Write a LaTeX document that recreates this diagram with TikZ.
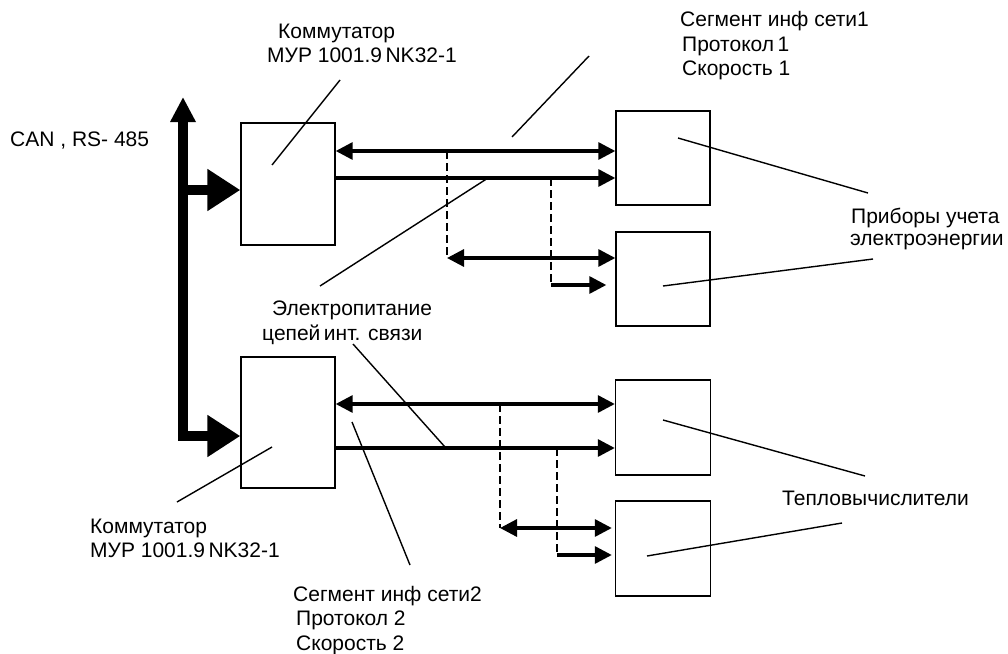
\documentclass[tikz,border=0pt]{standalone}
\usepackage{fontspec}
\setmainfont{Liberation Sans}
\usetikzlibrary{arrows.meta}

\begin{document}
\begin{tikzpicture}[x=1pt, y=-1pt,
    box/.style={draw, line width=1.4pt, inner sep=0pt},
    lbl/.style={anchor=base west, inner sep=0pt, font=\fontsize{21}{24}\selectfont},
    bus/.style={line width=10pt, line join=miter},
    link/.style={line width=3.2pt, >={Triangle[length=17pt, width=17pt]}},
    tap/.style={line width=2.6pt, dash pattern=on 8pt off 4pt},
    lead/.style={line width=1.4pt}]
  \useasboundingbox (0,0) rectangle (1008,653);

  % блоки
  \node[box, minimum width=94pt, minimum height=122pt] (s1) at (288,184) {};
  \node[box, minimum width=94pt, minimum height=131pt] (s2) at (288,422.5) {};
  \node[box, minimum size=94pt] (a) at (663,158) {};
  \node[box, minimum size=94pt] (b) at (663,279) {};
  \node[box, minimum size=95pt] (c) at (663,427.5) {};
  \node[box, minimum size=95pt] (d) at (663,548.5) {};

  % магистраль CAN, RS-485
  \coordinate (top) at (183,97);
  \coordinate (bend) at (183,436);
  \coordinate (tap0) at (183,190);
  \draw[bus, {Triangle[length=25pt, width=24pt]}-{Triangle[length=33pt, width=40pt]}]
    (top) -- (bend) -- (bend -| s2.west);
  \draw[bus, -{Triangle[length=33pt, width=40pt]}] (tap0) -- (tap0 -| s1.west);

  % сегмент 1
  \coordinate (p1) at (447,151);
  \coordinate (p2) at (551,178);
  \draw[link, <->] (p1 -| s1.east) -- (p1 -| a.west);
  \draw[link, ->] (p2 -| s1.east) -- (p2 -| a.west);
  \draw[tap] (p1) -- ++(0,107) coordinate (q1);
  \draw[link, <->] (q1) -- (q1 -| b.west);
  \draw[tap] (p2) -- ++(0,107) coordinate (q2);
  \draw[link, ->, shorten >=9pt] (q2) -- (q2 -| b.west);

  % сегмент 2
  \coordinate (p3) at (500,404);
  \coordinate (p4) at (557,448);
  \draw[link, <->] (p3 -| s2.east) -- (p3 -| c.west);
  \draw[link, ->] (p4 -| s2.east) -- (p4 -| c.west);
  \draw[tap] (p3) -- ++(0,124) coordinate (q3);
  \draw[link, <->, shorten >=3pt] (q3) -- (q3 -| d.west);
  \draw[tap] (p4) -- ++(0,107) coordinate (q4);
  \draw[link, ->, shorten >=3pt] (q4) -- (q4 -| d.west);

  % надписи
  \node[lbl] (k1a) at (278,38) {Коммутатор};
  \node[lbl] (k1b) at (267,62) {МУР 1001.9\,NK32-1};
  \node[lbl] (g1a) at (680,27) {Сегмент инф сети1};
  \node[lbl] (g1b) at (682,51) {Протокол\,1};
  \node[lbl] (g1c) at (682,75) {Скорость 1};
  \node[lbl] (can) at (10,146) {CAN , RS- 485};
  \node[lbl] (pwa) at (272,315) {Электропитание};
  \node[lbl] (pwb) at (262,340) {цепей\,инт. связи};
  \node[lbl] (mta) at (851,223) {Приборы учета};
  \node[lbl] (mtb) at (850,245) {электроэнергии};
  \node[lbl] (hc) at (782,505) {Тепловычислители};
  \node[lbl] (k2a) at (90,533) {Коммутатор};
  \node[lbl] (k2b) at (90,557) {МУР 1001.9\,NK32-1};
  \node[lbl] (g2a) at (293,601) {Сегмент инф сети2};
  \node[lbl] (g2b) at (296,625) {Протокол 2};
  \node[lbl] (g2c) at (296,650) {Скорость 2};

  % выноски
  \coordinate (w1) at (340,80);  \coordinate (e1) at (272,165);
  \coordinate (w2) at (589,56);  \coordinate (e2) at (512,137);
  \coordinate (w3) at (320,286); \coordinate (e3) at (488,178);
  \coordinate (w4) at (353,344); \coordinate (e4) at (445,447);
  \coordinate (w5) at (177,502); \coordinate (e5) at (272,447);
  \coordinate (w6) at (410,565); \coordinate (e6) at (352,422);
  \coordinate (w7) at (868,193); \coordinate (e7) at (678,138);
  \coordinate (w8) at (873,259); \coordinate (e8) at (663,286);
  \coordinate (w9) at (865,476); \coordinate (e9) at (663,420);
  \coordinate (w10) at (842,523); \coordinate (e10) at (647,556);
  \foreach \i in {1,...,10}
    \draw[lead] (w\i) -- (e\i);
\end{tikzpicture}
\end{document}
